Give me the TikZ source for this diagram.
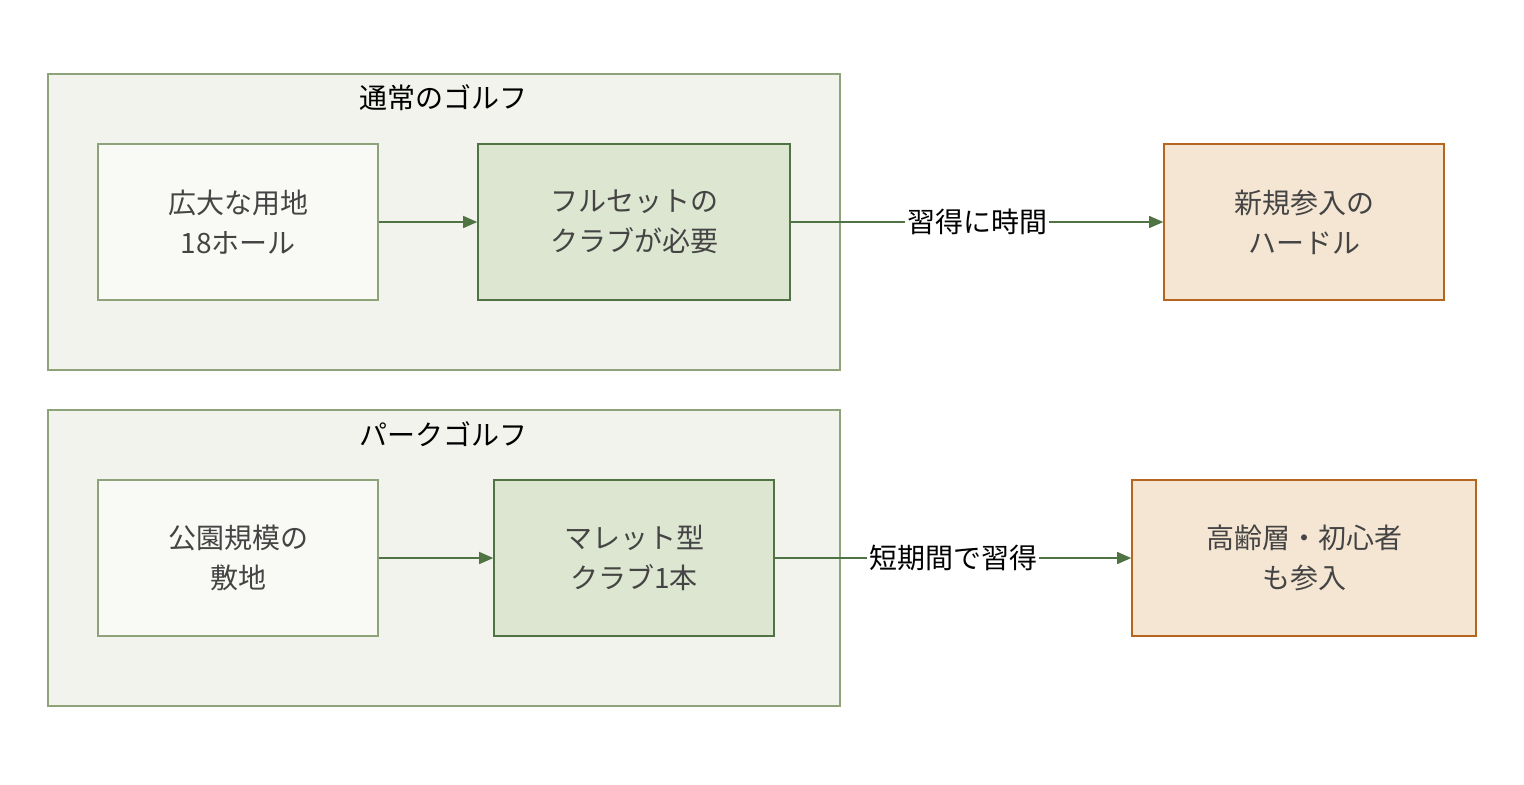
\documentclass[tikz,border=0pt]{standalone}
\usepackage{fontspec}
\setmainfont{Noto Sans CJK JP}
\usetikzlibrary{arrows.meta}
\definecolor{grpfill}{HTML}{F2F3EC}
\definecolor{grpline}{HTML}{8FA37A}
\definecolor{lightfill}{HTML}{F9FAF5}
\definecolor{midfill}{HTML}{DDE6D0}
\definecolor{midline}{HTML}{4F7342}
\definecolor{orfill}{HTML}{F5E6D3}
\definecolor{orline}{HTML}{B5651D}
\definecolor{txt}{HTML}{444444}
\begin{document}
\begin{tikzpicture}[x=0.5pt,y=-0.5pt,
  grp/.style={draw=grpline,fill=grpfill,line width=0.8pt},
  box/.style={draw=#1line,fill=#1fill,line width=0.8pt},
  t/.style={font=\fontsize{14pt}{20pt}\selectfont,text=txt,align=center},
  title/.style={font=\fontsize{14pt}{18pt}\selectfont,text=black},
  arr/.style={draw=midline,line width=0.7pt,-{Triangle[length=7pt,width=6pt]}},
  lab/.style={fill=white,font=\fontsize{14pt}{18pt}\selectfont,text=black,inner sep=1pt}]
\useasboundingbox (0,0) rectangle (1524,784);
\colorlet{lightline}{grpline}
\draw[grp] (48,74) rectangle (840,370);
\node[title] (g1) at (443,98) {通常のゴルフ};
\draw[grp] (48,410) rectangle (840,706);
\node[title] (g2) at (443,434) {パークゴルフ};
\node[box=light,minimum width=140pt,minimum height=78pt,t] (a) at (238,222) {広大な用地\\18ホール};
\node[box=mid,minimum width=156pt,minimum height=78pt,t] (b) at (634,222) {フルセットの\\クラブが必要};
\node[box=or,minimum width=140pt,minimum height=78pt,t] (c) at (1304,222) {新規参入の\\ハードル};
\node[box=light,minimum width=140pt,minimum height=78pt,t] (d) at (238,558) {公園規模の\\敷地};
\node[box=mid,minimum width=140pt,minimum height=78pt,t] (e) at (634,558) {マレット型\\クラブ1本};
\node[box=or,minimum width=172pt,minimum height=78pt,t] (f) at (1304,558) {高齢層・初心者\\も参入};
\draw[arr] (a) -- (b);
\draw[arr] (b) -- node[lab] {習得に時間} (c);
\draw[arr] (d) -- (e);
\draw[arr] (e) -- node[lab] {短期間で習得} (f);
\end{tikzpicture}
\end{document}
